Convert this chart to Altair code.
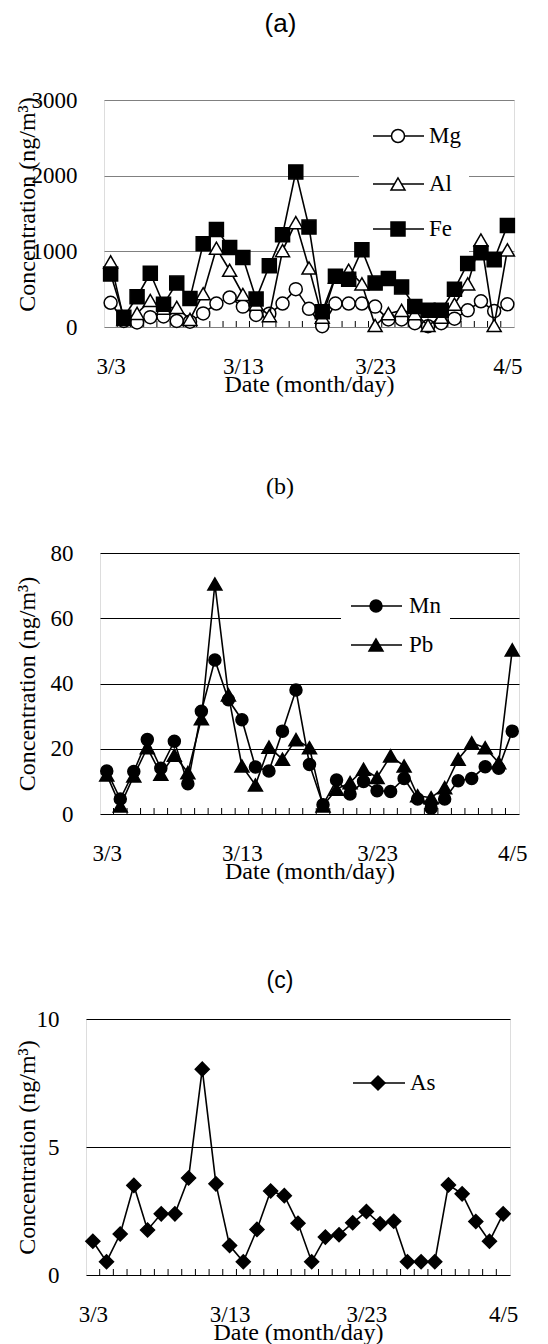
import altair as alt
import pandas as pd

# ---------------- data ----------------
n_days = 31
day_index = list(range(n_days))
tick_pos = [0, 10, 20, 30]
tick_lab = ["3/3", "3/13", "3/23", "4/5"]

mg = [320, 80, 60, 130, 140, 80, 70, 180, 310, 390, 270, 160, 176, 310, 500, 240,
      10, 310, 310, 310, 270, 100, 100, 50, 10, 50, 110, 220, 340, 210, 300]
al = [860, 100, 180, 350, 250, 260, 100, 440, 1040, 750, 430, 300, 150, 1010, 1380, 780,
      130, 660, 750, 570, 20, 176, 220, 176, 20, 130, 300, 570, 1150, 20, 1020]
fe = [700, 130, 400, 710, 300, 580, 378, 1100, 1290, 1050, 920, 370, 810, 1220, 2050, 1320,
      200, 670, 630, 1020, 580, 640, 530, 270, 220, 220, 500, 840, 980, 890, 1340]

mn = [13.2, 4.6, 13, 22.8, 14, 22.3, 9.3, 31.5, 47.2, 35, 28.9, 14.4, 13.2, 25.4, 38, 15.2,
      2.8, 10.4, 6.1, 10, 7.1, 6.9, 10.9, 4.6, 1.8, 4.6, 10.2, 10.9, 14.5, 14, 25.4]
pb = [12, 2.5, 11.7, 20.3, 12.2, 18, 12.7, 29.2, 70.5, 36.5, 14.7, 8.9, 20.5, 16.8, 22.8, 20.3,
      2.5, 7.6, 9.6, 13.7, 11.2, 17.8, 14.7, 5.6, 5, 8.1, 16.8, 21.8, 20.3, 15.7, 50.3]
as_ = [1.32, 0.52, 1.6, 3.5, 1.76, 2.39, 2.39, 3.79, 8.04, 3.56, 1.15, 0.52, 1.78, 3.28, 3.1, 2.02,
       0.52, 1.48, 1.57, 2.04, 2.48, 2.0, 2.1, 0.52, 0.52, 0.52, 3.52, 3.17, 2.09, 1.32, 2.39]

SERIF = "Liberation Serif"
SANS = "Liberation Sans"

label_expr = " : ".join(f"datum.value == {p} ? '{l}'" for p, l in zip(tick_pos, tick_lab)) + " : ''"


def make_panel(series, ymax, ystep, w, h, title, title_font, title_size, title_dx, title_offset,
               grid_color, legend, y_title_pad, y_title_y=None):
    xscale = alt.Scale(domain=[-0.5, n_days - 0.5], nice=False, zero=False)
    yscale = alt.Scale(domain=[0, ymax], nice=False, zero=True)
    yvals = list(range(0, ymax + 1, ystep))

    x_axis = alt.Axis(values=tick_pos, labelExpr=label_expr, tickSize=0, domain=False, grid=False,
                      labelPadding=28, labelFont=SERIF, labelFontSize=23, labelColor="black",
                      labelFlush=False, labelAngle=0,
                      title="Date (month/day)", titleFont=SERIF, titleFontSize=24,
                      titleFontWeight="normal", titleColor="black", titlePadding=-6)
    y_kw = dict(values=yvals, grid=True, gridColor=grid_color, gridWidth=1, tickSize=0,
                domain=False, labelPadding=27, labelFont=SERIF, labelFontSize=23,
                labelColor="black", labelFlush=False, format="d",
                title="Concentration (ng/m³)", titleFont=SERIF, titleFontSize=24,
                titleFontWeight="normal", titleColor="black", titlePadding=y_title_pad)
    if y_title_y is not None:
        y_kw["titleY"] = y_title_y
    y_axis = alt.Axis(**y_kw)

    X = alt.X("day:Q", scale=xscale, axis=x_axis)
    Y = alt.Y("value:Q", scale=yscale, axis=y_axis)

    layers = []
    # category tick marks between days, pointing into the plot
    ticks_df = pd.DataFrame({"day": [i + 0.5 for i in range(n_days - 1)]})
    layers.append(alt.Chart(ticks_df).mark_rule(color="black", strokeWidth=1).encode(
        x=X, y=alt.value(h), y2=alt.value(h - 6)))

    # legend background
    lx0, lx1, ly0, ly1 = legend["box"]
    layers.append(alt.Chart(pd.DataFrame({"k": [0]})).mark_rect(fill="white").encode(
        x=alt.value(lx0), x2=alt.value(lx1), y=alt.value(ly0), y2=alt.value(ly1)))

    for k, (name, vals, shape, filled) in enumerate(series):
        df = pd.DataFrame({"day": day_index, "value": vals, "series": name})
        base = alt.Chart(df)
        layers.append(base.mark_line(color="black", strokeWidth=1.6).encode(x=X, y=Y))
        layers.append(base.mark_point(shape=shape, filled=True,
                                      fill="black" if filled else "white",
                                      stroke="black", strokeWidth=1.5,
                                      size=legend["size"][k], opacity=1).encode(x=X, y=Y))
        # legend entry
        ly = legend["rows"][k]
        one = alt.Chart(pd.DataFrame({"series": [name]}))
        layers.append(one.mark_rule(color="black", strokeWidth=1.6).encode(
            x=alt.value(legend["line"][0]), x2=alt.value(legend["line"][1]),
            y=alt.value(ly), y2=alt.value(ly)))
        layers.append(one.mark_point(shape=shape, filled=True,
                                     fill="black" if filled else "white",
                                     stroke="black", strokeWidth=1.5,
                                     size=legend["size"][k], opacity=1).encode(
            x=alt.value(legend["marker"]), y=alt.value(ly)))
        layers.append(one.mark_text(align="left", baseline="middle", font=SERIF, fontSize=23,
                                    color="black").encode(
            x=alt.value(legend["text"]), y=alt.value(ly), text="series:N"))

    return alt.layer(*layers).properties(
        width=w, height=h,
        title=alt.TitleParams(text=title, font=title_font, fontSize=title_size,
                              fontWeight="normal", color="black", anchor="middle",
                              frame="group", dx=title_dx, offset=title_offset))


def spacer():
    # invisible 1px-wide cell: makes every row start at the same left x
    return alt.Chart(pd.DataFrame({"k": [0]})).mark_point(
        size=0, strokeWidth=0, opacity=0).encode(
        x=alt.value(0), y=alt.value(0)).properties(
        width=1, height=1,
        view=alt.ViewBackground(stroke="transparent", strokeWidth=0))


panel_a = make_panel(
    [("Mg", mg, "circle", False), ("Al", al, "triangle-up", False), ("Fe", fe, "square", True)],
    3000, 1000, 410, 227, "(a)", SANS, 26, -28.5, 52, "#808080",
    dict(box=(255, 365, 10, 153), rows=[36, 84, 129], line=(269, 320), marker=294, text=325,
         size=[169, 196, 196]),
    y_title_pad=-8, y_title_y=104)

panel_b = make_panel(
    [("Mn", mn, "circle", True), ("Pb", pb, "triangle-up", True)],
    80, 20, 419, 261, "(b)", SERIF, 24, -29.5, 43, "black",
    dict(box=(241, 350, 33, 113), rows=[53, 92], line=(251, 302), marker=276, text=309,
         size=[144, 196]),
    y_title_pad=11)

panel_c = make_panel(
    [("As", as_, "diamond", True)],
    10, 5, 424, 256, "(c)", SANS, 23, -18, 15, "black",
    dict(box=(255, 345, 44, 84), rows=[64], line=(267, 319), marker=292, text=324,
         size=[196]),
    y_title_pad=-3)

row_a = alt.hconcat(spacer(), panel_a, spacing=0)
row_b = alt.hconcat(spacer(), panel_b, spacing=0)
row_c = alt.hconcat(spacer(), panel_c, spacing=0)

top = alt.vconcat(row_a, row_b, spacing=77)
chart = alt.vconcat(top, row_c, spacing=85).properties(
    padding={"left": 5, "top": 2, "right": 5, "bottom": 5}).configure_view(
    stroke="black", strokeWidth=1.5).configure(background="white")

chart.save("out.html", embed_options={"renderer": "svg", "actions": False})
